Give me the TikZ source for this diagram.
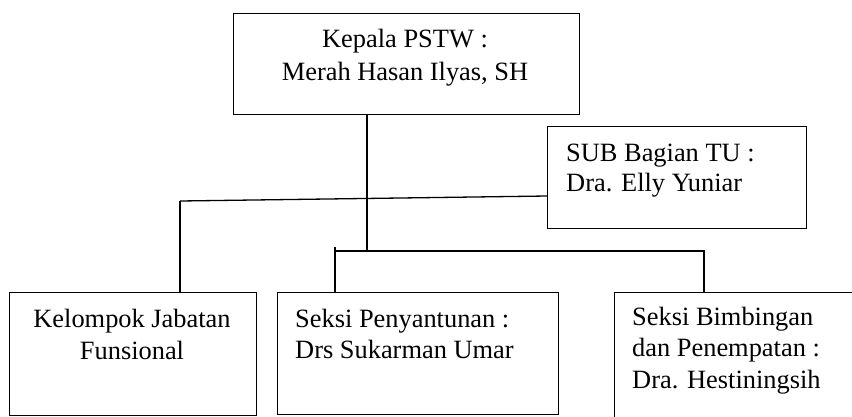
\documentclass[tikz,border=0pt]{standalone}
\usepackage{fontspec}
\setmainfont{Liberation Serif}
\begin{document}
\begin{tikzpicture}[x=1pt,y=-1pt,
  box/.style={draw,line width=1.4pt,inner sep=0pt,anchor=north west},
  lbl/.style={inner sep=0pt,font=\fontsize{26.4}{31}\selectfont},
  conn/.style={line width=1.3pt}]
\useasboundingbox (0,0) rectangle (852,416);
% boxes
\node[box,minimum width=346pt,minimum height=101pt] (kepala) at (233,13) {};
\node[box,minimum width=259pt,minimum height=102pt] (sub) at (547,126) {};
\node[box,minimum width=247pt,minimum height=123pt] (kel) at (9,292) {};
\node[box,minimum width=281pt,minimum height=122pt] (penyantunan) at (277,292) {};
\node[box,minimum width=260pt,minimum height=140pt] (bimbingan) at (614,292) {};
% texts (base anchor = baseline of the last line)
\node[lbl,align=center,anchor=base,font=\fontsize{26.4}{32.5}\selectfont] (kepalaT) at (405,80) {Kepala PSTW :\\Merah Hasan Ilyas, SH};
\node[lbl,align=left,anchor=base west,font=\fontsize{26.4}{29.5}\selectfont] (subT) at (566,191) {SUB Bagian TU :\\Dra. Elly Yuniar};
\node[lbl,align=center,anchor=base,font=\fontsize{26.4}{32}\selectfont] (kelT) at (132,359) {Kelompok Jabatan\\Funsional};
\node[lbl,align=left,anchor=base west] (penyantunanT) at (295,358) {Seksi Penyantunan :\\Drs Sukarman Umar};
\node[lbl,align=left,anchor=base west,font=\fontsize{26.4}{31.5}\selectfont] (bimbinganT) at (632,388) {Seksi Bimbingan\\dan Penempatan :\\Dra. Hestiningsih};
% junction points
\coordinate (j1) at (367,251);
\coordinate (kl) at (180,201);
\coordinate (sr) at (547,196);
\coordinate (bl) at (335,247);
\coordinate (br) at (704,251);
% connectors
\draw[conn] (kepala.south -| j1) -- (j1);
\draw[conn] (kl) -- (sr);
\draw[conn] (kl) -- (kl |- kel.north);
\draw[conn] (bl) -- (bl |- penyantunan.north);
\draw[conn] (bl |- j1) -- (br) -- (br |- bimbingan.north);
\end{tikzpicture}
\end{document}
